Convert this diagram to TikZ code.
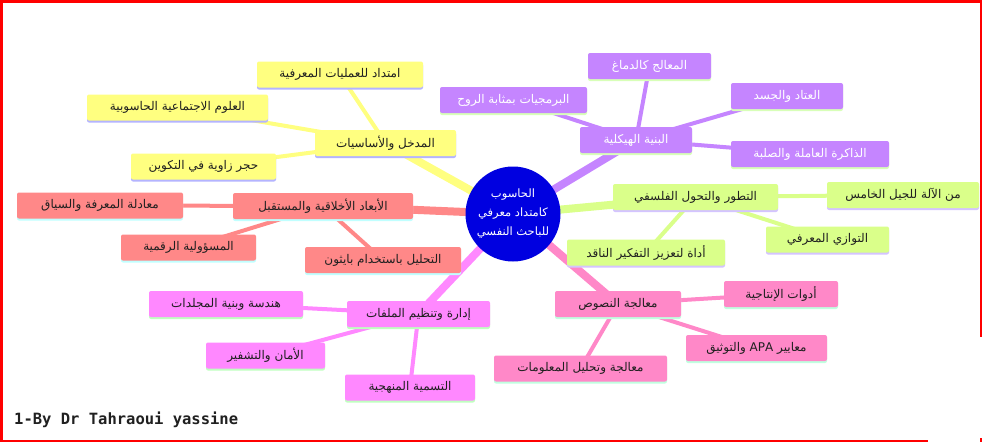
\documentclass[tikz,border=0pt]{standalone}
\usepackage{fontspec}
\newfontfamily\arabicfont[Script=Arabic]{DejaVu Sans}
\newfontfamily\footfont{DejaVu Sans Mono}
\TeXXeTstate=1
\definecolor{colY}{HTML}{FFFF80}
\definecolor{ysh}{HTML}{B4B4FF}
\definecolor{colP}{HTML}{C585FF}
\definecolor{psh}{HTML}{D8FFB8}
\definecolor{colG}{HTML}{DAFF8A}
\definecolor{gsh}{HTML}{D4C4FF}
\definecolor{colS}{HTML}{FF8888}
\definecolor{ssh}{HTML}{C0FFFF}
\definecolor{colM}{HTML}{FF88FF}
\definecolor{msh}{HTML}{C0FFC0}
\definecolor{colK}{HTML}{FF88C8}
\definecolor{ksh}{HTML}{C0FFE0}
\definecolor{cblue}{HTML}{0000E0}
\definecolor{tdark}{HTML}{202020}
\definecolor{borderred}{HTML}{FF0000}
\pgfdeclarelayer{back}
\pgfdeclarelayer{bg}
\pgfsetlayers{back,bg,main}
\tikzset{
  mmbase/.style={rounded corners=2pt, inner sep=0pt, minimum height=26,
    font=\arabicfont\fontsize{12}{14}\selectfont},
  ybox/.style={mmbase, fill=colY, text=tdark},
  pbox/.style={mmbase, fill=colP, text=white},
  gbox/.style={mmbase, fill=colG, text=tdark},
  sbox/.style={mmbase, fill=colS, text=tdark},
  mbox/.style={mmbase, fill=colM, text=tdark},
  kbox/.style={mmbase, fill=colK, text=tdark},
  trunk/.style={line width=8pt},
  twig/.style={line width=4pt},
}
\newcommand\mmbox[7]{%
  \fill[#6sh, rounded corners=2pt] ({#2-#4/2},{#3-11}) rectangle ({#2+#4/2},{#3+15});
  \node[#6box, minimum width=#4] (#1) at (#2,#3) {#7};
}
\begin{document}
\begin{tikzpicture}[x=1pt,y=-1pt]
\useasboundingbox (0,0) rectangle (982,442);
\begin{pgfonlayer}{back}
\fill[white] (0,0) rectangle (982,442);
\end{pgfonlayer}
% borders
\fill[borderred] (0,0) rectangle (982,2.5);
\fill[borderred] (0,0) rectangle (2.5,442);
\fill[borderred] (979.5,0) rectangle (982,337);
\fill[borderred] (0,439.5) rectangle (928,442);
\fill[borderred] (980,438) rectangle (982,442);

% centre
\node[circle, fill=cblue, minimum size=95, inner sep=0pt, text=white, align=center,
  font=\arabicfont\fontsize{11.5}{19}\selectfont] (c) at (513,214)
  {\beginR الحاسوب\endR\\\beginR كامتداد معرفي\endR\\\beginR للباحث النفسي\endR};

% yellow
\mmbox{y0}{385.5}{143}{141}{26}{y}{\beginR المدخل والأساسيات\endR}
\mmbox{y1}{340}{74.5}{166}{26}{y}{\beginR امتداد للعمليات المعرفية\endR}
\mmbox{y2}{177.5}{107.5}{181}{26}{y}{\beginR العلوم الاجتماعية الحاسوبية\endR}
\mmbox{y3}{203.5}{166.5}{145}{26}{y}{\beginR حجر زاوية في التكوين\endR}
% purple
\mmbox{p0}{636}{140}{112}{26}{p}{\beginR البنية الهيكلية\endR}
\mmbox{p1}{649.5}{66}{123}{26}{p}{\beginR المعالج كالدماغ\endR}
\mmbox{p2}{513.5}{100}{147}{26}{p}{\beginR البرمجيات بمثابة الروح\endR}
\mmbox{p3}{787}{96}{112}{26}{p}{\beginR العتاد والجسد\endR}
\mmbox{p4}{810}{154}{158}{26}{p}{\beginR الذاكرة العاملة والصلبة\endR}
% green
\mmbox{g0}{695.5}{197}{165}{26}{g}{\beginR التطور والتحول الفلسفي\endR}
\mmbox{g1}{903}{195}{152}{26}{g}{\beginR من الآلة للجيل الخامس\endR}
\mmbox{g2}{827.5}{239.5}{123}{26}{g}{\beginR التوازي المعرفي\endR}
\mmbox{g3}{646}{252.5}{158}{26}{g}{\beginR أداة لتعزيز التفكير الناقد\endR}
% salmon
\mmbox{s0}{323}{206}{180}{26}{s}{\beginR الأبعاد الأخلاقية والمستقبل\endR}
\mmbox{s1}{100}{205.5}{166}{26}{s}{\beginR معادلة المعرفة والسياق\endR}
\mmbox{s2}{188.5}{247.5}{135}{26}{s}{\beginR المسؤولية الرقمية\endR}
\mmbox{s3}{383}{260}{156}{26}{s}{\beginR التحليل باستخدام بايثون\endR}
% magenta
\mmbox{m0}{418.5}{314}{143}{26}{m}{\beginR إدارة وتنظيم الملفات\endR}
\mmbox{m1}{226}{304}{154}{26}{m}{\beginR هندسة وبنية المجلدات\endR}
\mmbox{m2}{265.5}{355.5}{119}{26}{m}{\beginR الأمان والتشفير\endR}
\mmbox{m3}{410}{387.5}{130}{26}{m}{\beginR التسمية المنهجية\endR}
% pink
\mmbox{k0}{618}{304}{126}{26}{k}{\beginR معالجة النصوص\endR}
\mmbox{k1}{781}{294}{114}{26}{k}{\beginR أدوات الإنتاجية\endR}
\mmbox{k2}{756.5}{348}{141}{26}{k}{\beginR معايير \beginL APA\endL{} والتوثيق\endR}
\mmbox{k3}{580.5}{368.5}{173}{26}{k}{\beginR معالجة وتحليل المعلومات\endR}

\begin{pgfonlayer}{bg}
\draw[trunk, colY] (c.center) -- (y0.center);
\draw[trunk, colP] (c.center) -- (p0.center);
\draw[trunk, colG] (c.center) -- (g0.center);
\draw[trunk, colS] (c.center) -- (s0.center);
\draw[trunk, colM] (c.center) -- (m0.center);
\draw[trunk, colK] (c.center) -- (k0.center);
\foreach \i in {1,2,3} {\draw[twig, colY] (y0.center) -- (y\i.center);}
\foreach \i in {1,2,3,4} {\draw[twig, colP] (p0.center) -- (p\i.center);}
\foreach \i in {1,2,3} {\draw[twig, colG] (g0.center) -- (g\i.center);}
\foreach \i in {1,2,3} {\draw[twig, colS] (s0.center) -- (s\i.center);}
\foreach \i in {1,2,3} {\draw[twig, colM] (m0.center) -- (m\i.center);}
\foreach \i in {1,2,3} {\draw[twig, colK] (k0.center) -- (k\i.center);}
\end{pgfonlayer}

\node[anchor=west, font=\footfont\bfseries\fontsize{15.5}{18}\selectfont, text=tdark, inner sep=0pt]
  (ft) at (14,420) {1-By Dr Tahraoui yassine};
\end{tikzpicture}
\end{document}
